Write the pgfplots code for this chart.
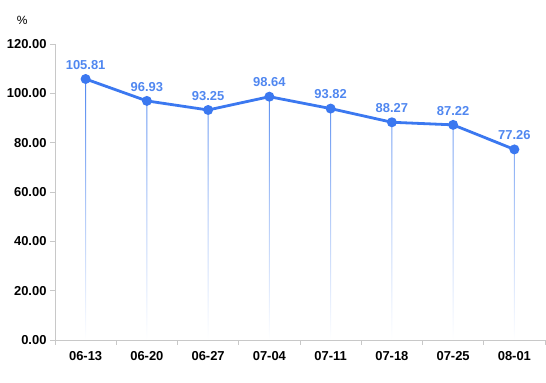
\documentclass[border=0pt]{standalone}
\usepackage{pgfplots}
\pgfplotsset{compat=1.18}
\usepackage{fontspec}
\setmainfont{Liberation Sans}
\definecolor{lb}{RGB}{59,120,240}
\definecolor{lt}{RGB}{80,135,240}
\definecolor{axc}{RGB}{200,200,200}
\begin{document}
\begin{tikzpicture}
\useasboundingbox (0,0) rectangle (546bp,383bp);
\begin{axis}[at={(55bp,43bp)}, anchor=south west, scale only axis,
  width=490bp, height=296bp,
  xmin=-0.5, xmax=7.5, ymin=0, ymax=120,
  axis x line*=bottom, axis y line*=left,
  axis line style={axc, line width=0.8bp},
  tick align=outside,
  xtick={-0.5,0.5,...,7.5},
  x tick label as interval=true,
  xticklabels={06-13,06-20,06-27,07-04,07-11,07-18,07-25,08-01},
  ytick={0,20,...,120},
  major tick length=5bp,
  tick style={axc, line width=0.8bp},
  tick label style={font=\fontsize{13}{15}\selectfont\bfseries, text=black},
  xticklabel style={yshift=-3bp},
  yticklabel style={/pgf/number format/.cd, fixed, fixed zerofill, precision=2, assume math mode=true},
  clip=false,
]
\addplot[ybar, bar width=1bp, draw=none, top color=lt, bottom color=white, middle color=lt!45!white, forget plot]
  coordinates {(0,105.81) (1,96.93) (2,93.25) (3,98.64) (4,93.82) (5,88.27) (6,87.22) (7,77.26)};
\addplot[lb, line width=2.8bp, mark=*, mark size=3.5bp, mark options={solid, fill=lb},
  nodes near coords, point meta=explicit symbolic,
  every node near coord/.append style={font=\fontsize{13}{15}\selectfont\bfseries, text=lt, anchor=south, yshift=5bp}]
  coordinates {(0,105.81)[105.81] (1,96.93)[96.93] (2,93.25)[93.25] (3,98.64)[98.64] (4,93.82)[93.82] (5,88.27)[88.27] (6,87.22)[87.22] (7,77.26)[77.26]};
\node[font=\fontsize{12}{14}\selectfont] at (axis description cs:-0.067,1.081) {\%};
\end{axis}
\end{tikzpicture}
\end{document}
